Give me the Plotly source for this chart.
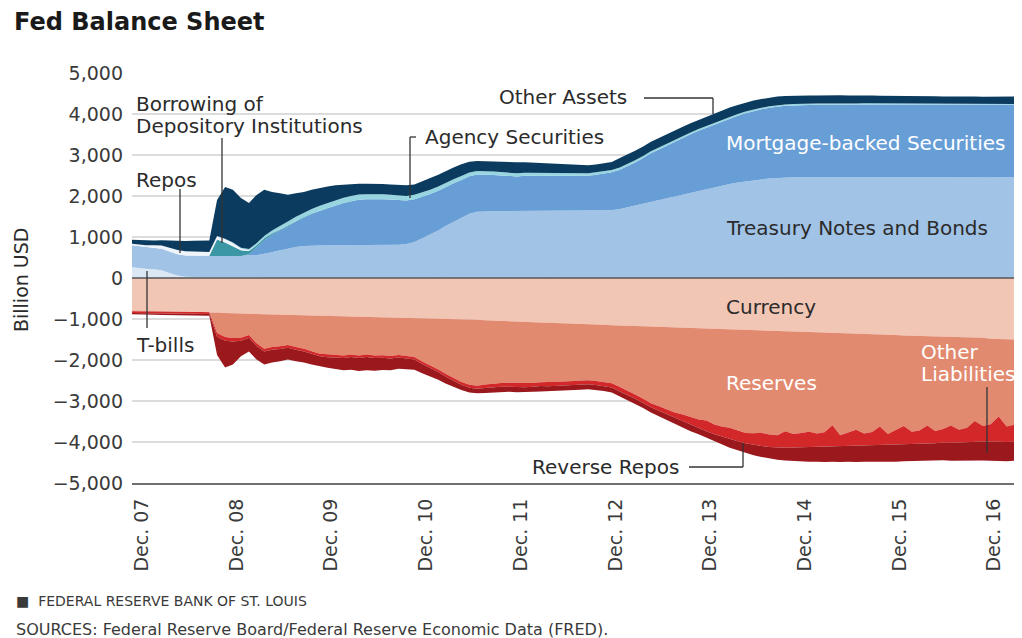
import pandas as pd
import plotly.graph_objects as go

# monthly observations, Nov 2007 .. Apr 2017 (billion USD)
dates = pd.date_range("2007-11-01", "2017-04-01", freq="MS")

# ---- assets (stacked upward) ----
t_bills = [
    270, 245,
    225, 215, 190, 120, 60, 30, 22, 20, 19, 18, 18, 18,
    18, 18, 18, 18, 18, 18, 18, 18, 18, 18, 18, 18,
    18, 18, 18, 18, 18, 18, 18, 18, 18, 18, 18, 18,
    18, 18, 18, 18, 18, 18, 18, 18, 18, 18, 18, 18,
    12, 8, 5, 2, 0, 0, 0, 0, 0, 0, 0, 0,
    0, 0, 0, 0, 0, 0, 0, 0, 0, 0, 0, 0,
    0, 0, 0, 0, 0, 0, 0, 0, 0, 0, 0, 0,
    0, 0, 0, 0, 0, 0, 0, 0, 0, 0, 0, 0,
    0, 0, 0, 0, 0, 0, 0, 0, 0, 0, 0, 0,
    0, 0, 0, 0,
]
treasury_notes = [
    535, 535,
    530, 528, 525, 525, 522, 520, 520, 520, 520, 520, 520, 520,
    520, 522, 535, 575, 620, 665, 705, 740, 760, 772, 778, 780,
    780, 780, 782, 782, 783, 783, 784, 785, 790, 810, 860, 950,
    1040, 1140, 1250, 1350, 1450, 1550, 1600, 1610, 1612, 1615, 1618, 1620,
    1630, 1640, 1645, 1650, 1650, 1650, 1650, 1650, 1650, 1650, 1650, 1650,
    1680, 1725, 1770, 1815, 1860, 1905, 1950, 1995, 2040, 2085, 2130, 2175,
    2220, 2260, 2295, 2330, 2360, 2385, 2405, 2425, 2440, 2450, 2455, 2460,
    2460, 2460, 2461, 2461, 2462, 2462, 2462, 2463, 2463, 2463, 2464, 2464,
    2464, 2464, 2464, 2465, 2465, 2465, 2465, 2465, 2465, 2465, 2465, 2465,
    2465, 2465, 2465, 2465,
]
mbs = [
    0, 0,
    0, 0, 0, 0, 0, 0, 0, 0, 0, 0, 0, 0,
    0, 40, 180, 330, 420, 470, 540, 620, 700, 770, 840, 905,
    970, 1030, 1070, 1110, 1120, 1125, 1120, 1110, 1090, 1060, 1040, 1010,
    990, 970, 955, 940, 925, 915, 905, 895, 885, 870, 855, 840,
    850, 845, 845, 850, 850, 850, 855, 855, 845, 870, 905, 930,
    960, 1000, 1050, 1110, 1180, 1230, 1280, 1330, 1380, 1420, 1460, 1490,
    1530, 1570, 1600, 1630, 1660, 1690, 1710, 1730, 1740, 1750, 1755, 1760,
    1760, 1765, 1765, 1770, 1770, 1770, 1770, 1770, 1770, 1770, 1770, 1770,
    1770, 1765, 1765, 1765, 1760, 1760, 1760, 1760, 1760, 1760, 1760, 1760,
    1760, 1765, 1765, 1765,
]
borrowing = [
    0, 0,
    0, 0, 0, 0, 0, 0, 0, 0, 5, 400, 330, 240,
    140, 80, 60, 45, 35, 30, 25, 20, 15, 12, 10, 8,
    5, 3, 2, 1, 0, 0, 0, 0, 0, 0, 0, 0,
    0, 0, 0, 0, 0, 0, 0, 0, 0, 0, 0, 0,
    0, 0, 0, 0, 0, 0, 0, 0, 0, 0, 0, 0,
    0, 0, 0, 0, 0, 0, 0, 0, 0, 0, 0, 0,
    0, 0, 0, 0, 0, 0, 0, 0, 0, 0, 0, 0,
    0, 0, 0, 0, 0, 0, 0, 0, 0, 0, 0, 0,
    0, 0, 0, 0, 0, 0, 0, 0, 0, 0, 0, 0,
    0, 0, 0, 0,
]
repos = [
    35, 40,
    45, 55, 75, 90, 100, 100, 95, 100, 90, 80, 80, 75,
    40, 15, 5, 0, 0, 0, 0, 0, 0, 0, 0, 0,
    0, 0, 0, 0, 0, 0, 0, 0, 0, 0, 0, 0,
    0, 0, 0, 0, 0, 0, 0, 0, 0, 0, 0, 0,
    0, 0, 0, 0, 0, 0, 0, 0, 0, 0, 0, 0,
    0, 0, 0, 0, 0, 0, 0, 0, 0, 0, 0, 0,
    0, 0, 0, 0, 0, 0, 0, 0, 0, 0, 0, 0,
    0, 0, 0, 0, 0, 0, 0, 0, 0, 0, 0, 0,
    0, 0, 0, 0, 0, 0, 0, 0, 0, 0, 0, 0,
    0, 0, 0, 0,
]
agency = [
    0, 0,
    0, 0, 0, 0, 0, 0, 0, 0, 3, 6, 10, 15,
    20, 30, 42, 55, 68, 78, 88, 98, 106, 112, 117, 120,
    123, 125, 125, 125, 124, 122, 120, 117, 114, 112, 110, 108,
    105, 103, 100, 98, 95, 92, 89, 86, 83, 80, 78, 76,
    74, 72, 71, 69, 68, 66, 65, 63, 62, 60, 59, 57,
    56, 55, 54, 53, 52, 50, 49, 48, 47, 45, 44, 43,
    42, 41, 40, 39, 38, 37, 36, 35, 34, 33, 32, 31,
    30, 30, 29, 29, 28, 28, 27, 27, 26, 26, 25, 25,
    24, 24, 23, 23, 22, 22, 21, 20, 20, 19, 18, 17,
    16, 16, 15, 15,
]
other_assets = [
    95, 105,
    110, 115, 130, 175, 225, 255, 270, 270, 275, 876, 1262, 1282,
    1212, 1125, 1180, 1127, 939, 809, 654, 574, 501, 466, 437, 399,
    364, 324, 293, 264, 255, 252, 248, 250, 258, 260, 252, 280,
    285, 290, 290, 290, 285, 260, 240, 235, 235, 240, 245, 270,
    260, 250, 240, 230, 220, 215, 205, 195, 195, 190, 185, 195,
    230, 230, 230, 230, 230, 230, 230, 225, 225, 225, 220, 230,
    230, 225, 225, 220, 220, 215, 215, 210, 210, 205, 205, 200,
    200, 195, 200, 190, 195, 190, 195, 190, 190, 185, 185, 190,
    190, 185, 185, 180, 185, 180, 185, 180, 180, 185, 180, 185,
    180, 185, 180, 180,
]

# ---- liabilities (stacked downward) ----
currency = [
    -790, -795,
    -800, -800, -805, -808, -810, -815, -818, -820, -825, -840, -855, -865,
    -870, -875, -880, -885, -890, -895, -900, -905, -910, -915, -920, -925,
    -930, -933, -936, -940, -943, -946, -950, -953, -956, -960, -965, -975,
    -985, -990, -995, -1000, -1005, -1012, -1020, -1030, -1040, -1050, -1060, -1070,
    -1075, -1080, -1085, -1090, -1095, -1100, -1110, -1115, -1120, -1130, -1140, -1150,
    -1160, -1165, -1170, -1175, -1180, -1185, -1190, -1200, -1205, -1210, -1220, -1230,
    -1240, -1245, -1250, -1255, -1260, -1265, -1270, -1280, -1285, -1290, -1300, -1310,
    -1320, -1325, -1330, -1335, -1340, -1345, -1350, -1360, -1365, -1370, -1380, -1390,
    -1400, -1405, -1410, -1415, -1420, -1425, -1430, -1440, -1445, -1450, -1460, -1480,
    -1490, -1495, -1500, -1505,
]
reserves = [
    -20, -15,
    -15, -15, -15, -15, -12, -10, -10, -10, -10, -500, -585, -600,
    -585, -515, -705, -840, -795, -770, -735, -780, -815, -870, -925, -935,
    -940, -955, -930, -950, -925, -945, -935, -950, -920, -935, -960, -1060,
    -1143, -1241, -1343, -1441, -1533, -1593, -1607, -1569, -1533, -1508, -1494, -1489,
    -1491, -1480, -1456, -1456, -1438, -1426, -1410, -1388, -1372, -1380, -1394, -1417,
    -1501, -1585, -1674, -1773, -1872, -1945, -2014, -2078, -2127, -2185, -2234, -2248,
    -2332, -2381, -2400, -2464, -2518, -2522, -2506, -2540, -2549, -2448, -2507, -2471,
    -2430, -2465, -2435, -2255, -2495, -2425, -2354, -2430, -2394, -2254, -2424, -2319,
    -2210, -2345, -2310, -2185, -2310, -2255, -2170, -2260, -2205, -2040, -2150, -2090,
    -1890, -2125, -2090, -2035,
]
reverse_repos = [
    -40, -45,
    -45, -45, -45, -45, -45, -45, -45, -45, -45, -90, -90, -85,
    -75, -70, -65, -65, -65, -65, -65, -65, -65, -65, -65, -70,
    -70, -65, -60, -60, -60, -60, -60, -60, -60, -60, -60, -60,
    -60, -60, -65, -65, -65, -70, -75, -85, -90, -95, -100, -105,
    -100, -95, -95, -95, -95, -95, -95, -100, -100, -100, -105, -105,
    -105, -100, -100, -100, -100, -105, -115, -130, -160, -180, -200, -260,
    -240, -250, -280, -260, -250, -280, -320, -300, -300, -400, -330, -350,
    -380, -330, -360, -520, -280, -330, -400, -300, -330, -450, -270, -360,
    -450, -300, -320, -430, -300, -330, -420, -310, -350, -500, -380, -420,
    -620, -380, -400, -450,
]
other_liabilities = [
    -30, -35,
    -35, -35, -35, -35, -35, -35, -35, -35, -40, -450, -650, -560,
    -380, -330, -330, -320, -310, -300, -290, -280, -270, -260, -250, -260,
    -280, -300, -310, -320, -320, -310, -300, -290, -280, -270, -250, -230,
    -210, -190, -170, -150, -130, -120, -110, -120, -130, -130, -120, -120,
    -120, -120, -130, -120, -120, -120, -120, -120, -120, -120, -120, -120,
    -120, -120, -120, -120, -130, -140, -150, -150, -160, -160, -160, -160,
    -180, -195, -210, -225, -240, -255, -270, -285, -300, -315, -330, -345,
    -350, -360, -365, -370, -375, -380, -385, -390, -395, -400, -405, -410,
    -410, -415, -420, -425, -430, -435, -440, -445, -450, -455, -460, -465,
    -465, -470, -470, -470,
]

tick_dates = ["2007-12-15", "2008-12-15", "2009-12-15", "2010-12-15", "2011-12-15",
              "2012-12-15", "2013-12-15", "2014-12-15", "2015-12-15", "2016-12-15"]
tick_labels = ["Dec. 07", "Dec. 08", "Dec. 09", "Dec. 10", "Dec. 11",
               "Dec. 12", "Dec. 13", "Dec. 14", "Dec. 15", "Dec. 16"]
y_ticks = [-5000, -4000, -3000, -2000, -1000, 0, 1000, 2000, 3000, 4000, 5000]
y_labels = ["\u22125,000", "\u22124,000", "\u22123,000", "\u22122,000", "\u22121,000", "0",
            "1,000", "2,000", "3,000", "4,000", "5,000"]

FONT = "DejaVu Sans"
# the page body adds an 8px margin, so the figure is drawn 8px smaller and
# every position below is given in screen pixels and shifted back by OFF
OFF = 8
W, H = 1022 - OFF, 638 - OFF
ML, MR, MT, MB = 132 - OFF, 0, 73 - OFF, 638 - 483


def px(x):
    return (x - OFF - ML) / (W - ML - MR)


def py(y):
    return (H - MB - (y - OFF)) / (H - MT - MB)


fig = go.Figure()

asset_series = [
    ("T-bills", t_bills, "#dbe7f4"),
    ("Treasury Notes and Bonds", treasury_notes, "#a0c3e6"),
    ("Mortgage-backed Securities", mbs, "#689ed6"),
    ("Borrowing of Depository Institutions", borrowing, "#3c97a5"),
    ("Repos", repos, "#eef4fa"),
    ("Agency Securities", agency, "#97d6e0"),
    ("Other Assets", other_assets, "#0b3c5f"),
]
for name, vals, color in asset_series:
    fig.add_trace(go.Scatter(
        x=dates, y=vals, name=name, stackgroup="assets", mode="lines",
        line=dict(width=0, color=color), fillcolor=color,
    ))

liab_series = [
    ("Currency", currency, "#f2c6b5"),
    ("Reserves", reserves, "#e28a70"),
    ("Reverse Repos", reverse_repos, "#d3282a"),
    ("Other Liabilities", other_liabilities, "#9b191c"),
]
for name, vals, color in liab_series:
    fig.add_trace(go.Scatter(
        x=dates, y=vals, name=name, stackgroup="liabilities", mode="lines",
        line=dict(width=0, color=color), fillcolor=color,
    ))


def label(text, x, y, color="#2b2b2b", size=20, anchor="left"):
    return dict(text=text, x=px(x), y=py(y), xref="paper", yref="paper",
                xanchor=anchor, yanchor="middle", showarrow=False,
                font=dict(family=FONT, size=size, color=color))


annotations = [
    label("Borrowing of", 134, 104),
    label("Depository Institutions", 134, 126),
    label("Repos", 134, 180),
    label("T-bills", 134, 345),
    label("Agency Securities", 423, 137),
    label("Other Assets", 497, 97),
    label("Mortgage-backed Securities", 724, 143, color="#ffffff"),
    label("Treasury Notes and Bonds", 724, 228),
    label("Currency", 724, 307),
    label("Reserves", 724, 383, color="#ffffff"),
    label("Other", 919, 352, color="#ffffff"),
    label("Liabilities", 919, 374, color="#ffffff"),
    label("Reverse Repos", 530, 467),
    label("Billion USD", 21, 280, size=19),
    label("\u25A0  FEDERAL RESERVE BANK OF ST. LOUIS", 14, 601, color="#3a3a3a", size=14),
    label("SOURCES: Federal Reserve Board/Federal Reserve Economic Data (FRED).", 14, 629,
          color="#3a3a3a", size=16),
]
annotations[13]["textangle"] = -90
annotations[13]["xanchor"] = "center"


def seg(x0, y0, x1, y1):
    return dict(type="line", xref="paper", yref="paper",
                x0=px(x0), y0=py(y0), x1=px(x1), y1=py(y1),
                line=dict(color="#333333", width=1.3))


shapes = [
    # zero line on top of the fills
    dict(type="line", xref="paper", yref="y", x0=0, x1=1, y0=0, y1=0,
         line=dict(color="#555555", width=1.5), layer="above"),
    seg(147, 271, 147, 328),      # T-bills
    seg(180, 189, 180, 253),      # Repos
    seg(222, 138, 222, 243),      # Borrowing
    seg(410, 137, 416, 137),      # Agency
    seg(410, 137, 410, 198),
    seg(644, 98, 713, 98),        # Other Assets
    seg(713, 98, 713, 114),
    seg(689, 467, 743, 467),      # Reverse Repos
    seg(743, 467, 743, 443),
    seg(987, 387, 987, 453),      # Other Liabilities
]

fig.update_layout(
    width=W, height=H,
    margin=dict(l=ML, r=MR, t=MT, b=MB),
    paper_bgcolor="white", plot_bgcolor="white",
    showlegend=False,
    title=dict(text="<b>Fed Balance Sheet</b>", x=(14 - OFF) / W, xref="container",
               y=1 - (22 - OFF) / H, yref="container", xanchor="left", yanchor="middle",
               font=dict(family=FONT, size=24, color="#1a1a1a")),
    annotations=annotations,
    shapes=shapes,
    font=dict(family=FONT, color="#3a3a3a"),
)
fig.update_xaxes(
    type="date", range=["2007-11-08", "2017-04-01"],
    tickvals=tick_dates, ticktext=tick_labels, tickangle=-90,
    tickfont=dict(family=FONT, size=19, color="#3a3a3a"),
    showgrid=False, zeroline=False, ticks="",
    showline=True, linecolor="#707070", linewidth=2,
    ticklabelstandoff=6,
)
fig.update_yaxes(
    range=[-5000, 5000], tickvals=y_ticks, ticktext=y_labels,
    tickfont=dict(family=FONT, size=19, color="#3a3a3a"),
    showgrid=True, gridcolor="#dcdcdc", gridwidth=1.5,
    zeroline=False, ticks="", ticklabelstandoff=8,
)

fig.write_html("out.html")
